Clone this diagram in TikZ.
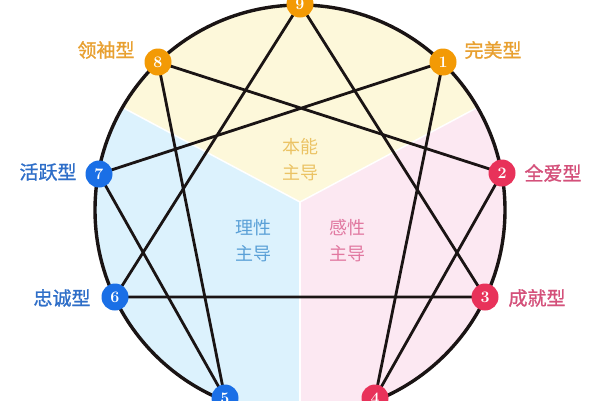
\documentclass[tikz,border=0pt]{standalone}
\usepackage{fontspec}
\newfontfamily\cjk{Noto Sans CJK SC}
\newfontfamily\cjkb[FakeBold=1.2]{Noto Sans CJK SC}
\definecolor{secY}{HTML}{FDF8DA}
\definecolor{secB}{HTML}{DCF2FD}
\definecolor{secP}{HTML}{FCE8F2}
\definecolor{nodeO}{HTML}{F39A05}
\definecolor{nodeP}{HTML}{E8325A}
\definecolor{nodeB}{HTML}{1A6FE6}
\definecolor{txtO}{HTML}{E8A030}
\definecolor{txtP}{HTML}{D4507A}
\definecolor{txtB}{HTML}{2E6EC8}
\definecolor{cenY}{HTML}{EBC364}
\definecolor{cenB}{HTML}{5AA0D7}
\definecolor{cenP}{HTML}{E178A0}
\definecolor{ink}{HTML}{1A1414}
\tikzset{
  pt/.style={circle,fill=#1,inner sep=0pt,minimum size=27pt,text=white,font=\fontsize{16}{16}\selectfont\bfseries},
  lab/.style={text=#1,font=\cjkb\fontsize{19}{22}\selectfont,inner sep=0pt},
  cen/.style={text=#1,font=\cjk\fontsize{18}{26}\selectfont,align=center,inner sep=0pt},
  edge/.style={draw=ink,line width=2.8pt},
}
\begin{document}
\begin{tikzpicture}[x=1pt,y=-1pt]
\useasboundingbox (0,0) rectangle (600,400);
\fill[white] (0,0) rectangle (600,400);
\coordinate (C) at (300,202);
\coordinate (O) at (300,210);
\begin{scope}
  \clip (O) circle (205);
  \fill[secY] (C) -- (-141,-33) -- (741,-33) -- cycle;
  \fill[secB] (C) -- (-141,-33) -- (-141,700) -- (300,700) -- cycle;
  \fill[secP] (C) -- (741,-33) -- (741,700) -- (300,700) -- cycle;
  \draw[white,line width=1.5pt] (-141,-33) -- (C) -- (741,-33);
  \draw[white,line width=1.5pt] (C) -- (300,700);
\end{scope}
\draw[ink,line width=3.4pt] (O) circle (205);
% centre texts
\node[cen=cenY] (tI) at (300,160) {本能\\主导};
\node[cen=cenB] (tT) at (253,241) {理性\\主导};
\node[cen=cenP] (tF) at (347,241) {感性\\主导};
% points
\coordinate (c9) at (300,4);
\coordinate (c1) at (443,62);
\coordinate (c2) at (502,173);
\coordinate (c3) at (485,297);
\coordinate (c4) at (375,398);
\coordinate (c5) at (225,398);
\coordinate (c6) at (115,297);
\coordinate (c7) at (99,174);
\coordinate (c8) at (158,62);
\draw[edge] (c9) -- (c3) -- (c6) -- cycle;
\draw[edge,line join=round] (c1) -- (c4) -- (c2) -- (c8) -- (c5) -- (c7) -- cycle;
\node[pt=nodeO] (n9) at (c9) {9};
\node[pt=nodeO] (n1) at (c1) {1};
\node[pt=nodeP] (n2) at (c2) {2};
\node[pt=nodeP] (n3) at (c3) {3};
\node[pt=nodeP] (n4) at (c4) {4};
\node[pt=nodeB] (n5) at (c5) {5};
\node[pt=nodeB] (n6) at (c6) {6};
\node[pt=nodeB] (n7) at (c7) {7};
\node[pt=nodeO] (n8) at (c8) {8};
% labels
\node[lab=txtO] (l8) at (106,50) {领袖型};
\node[lab=txtO] (l1) at (493,50) {完美型};
\node[lab=txtP] (l2) at (553,173) {全爱型};
\node[lab=txtB] (l7) at (48,172) {活跃型};
\node[lab=txtB] (l6) at (62,298) {忠诚型};
\node[lab=txtP] (l3) at (537,298) {成就型};
\end{tikzpicture}
\end{document}
